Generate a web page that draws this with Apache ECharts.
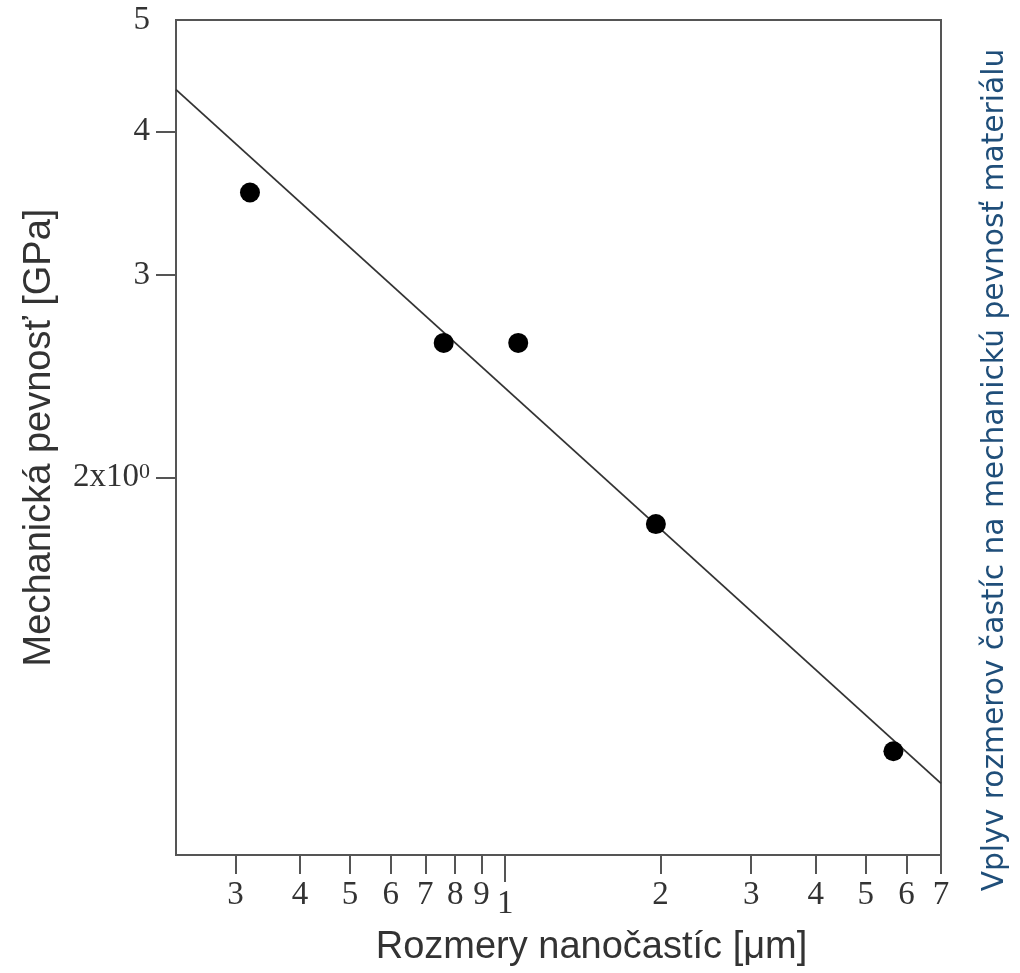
<!DOCTYPE html>
<html><head><meta charset="utf-8">
<script src="https://cdn.jsdelivr.net/npm/echarts@6/dist/echarts.min.js"></script>
<style>html,body{margin:0;padding:0;background:#fff}#c{width:1020px;height:973px}</style>
</head><body><div id="c"></div>
<script>
// Data (log-log plot)
const sizes = [0.32, 0.76, 1.06, 1.96, 5.66];          // particle size [µm]
const strength = [3.54, 2.62, 2.62, 1.823, 1.157];     // strength [GPa]
const fitX = [0.23, 7];
const fitY = [4.35, 1.085];
const xTicks = [0.3, 0.4, 0.5, 0.6, 0.7, 0.8, 0.9, 1, 2, 3, 4, 5, 6, 7];
const xTickLabels = ['3', '4', '5', '6', '7', '8', '9', '1', '2', '3', '4', '5', '6', '7'];
const yTicks = [2, 3, 4, 5];
const yTickLabels = ['{b|2x10}{s|0}', '3', '4', '5'];
const xRange = [0.23, 7];
const yRange = [0.94, 5];

const xTitle = 'Rozmery nanočastíc [μm]';
const yTitle = 'Mechanická pevnosť [GPa]';
const sideTitle = 'Vplyv rozmerov častíc na mechanickú pevnosť materiálu';

function lookup(v, ticks, labels) {
  for (let i = 0; i < ticks.length; i++) if (Math.abs(ticks[i] - v) < 1e-6 * Math.max(1, v)) return labels[i];
  return '';
}
const axisColor = '#555';
const textColor = '#333';
const serif = '"Liberation Serif", "DejaVu Serif", serif';

const chart = echarts.init(document.getElementById('c'), null, {renderer: 'canvas'});
chart.setOption({
  animation: false,
  backgroundColor: '#fff',
  grid: {left: 176, right: 79, top: 20, bottom: 118, show: true, borderColor: axisColor, borderWidth: 2, outerBoundsMode: 'none'},
  xAxis: [{
    type: 'log', logBase: 10, min: xRange[0], max: xRange[1],
    axisLine: {show: true, lineStyle: {color: axisColor, width: 2}},
    axisTick: {show: true, inside: false, length: 19, lineStyle: {color: axisColor, width: 2},
      customValues: xTicks.filter(v => v !== 1)},
    axisLabel: {show: true, margin: 24, fontFamily: serif, fontSize: 33, color: textColor,
      customValues: xTicks.filter(v => v !== 1),
      formatter: v => lookup(v, xTicks, xTickLabels)},
    splitLine: {show: false}, minorTick: {show: false},
    name: xTitle, nameLocation: 'middle', nameGap: 74,
    nameTextStyle: {fontFamily: '"Liberation Sans", Arial, sans-serif', fontSize: 38, color: textColor, padding: [0, 0, 0, 66]}
  }, {
    type: 'log', logBase: 10, min: xRange[0], max: xRange[1], position: 'bottom',
    axisLine: {show: false},
    axisTick: {show: true, inside: false, length: 27, lineStyle: {color: axisColor, width: 2}, customValues: [1]},
    axisLabel: {show: true, margin: 33, fontFamily: serif, fontSize: 33, color: textColor, customValues: [1],
      formatter: v => lookup(v, xTicks, xTickLabels)},
    splitLine: {show: false}
  }],
  yAxis: {
    type: 'log', logBase: 10, min: yRange[0], max: yRange[1],
    axisLine: {show: true, lineStyle: {color: axisColor, width: 2}},
    axisTick: {show: true, inside: false, length: 20, lineStyle: {color: axisColor, width: 2}, customValues: yTicks.filter(v => v !== 5)},
    axisLabel: {show: true, margin: 26, fontFamily: serif, fontSize: 33, color: textColor,
      customValues: yTicks,
      formatter: v => lookup(v, yTicks, yTickLabels),
      rich: {
        b: {fontFamily: serif, fontSize: 33, color: textColor, lineHeight: 33},
        s: {fontFamily: serif, fontSize: 22, color: textColor, verticalAlign: 'top', lineHeight: 33, padding: [0, 0, 12, 0]}
      }},
    splitLine: {show: false},
    name: yTitle, nameLocation: 'middle', nameGap: 117, nameRotate: 90,
    nameTextStyle: {fontFamily: '"Liberation Sans", Arial, sans-serif', fontSize: 38, color: textColor}
  },
  series: [{
    type: 'line', data: fitX.map((x, i) => [x, fitY[i]]), symbol: 'none',
    lineStyle: {color: '#333', width: 1.8}, z: 2
  }, {
    type: 'scatter', data: sizes.map((x, i) => [x, strength[i]]), symbol: 'circle', symbolSize: 20,
    itemStyle: {color: '#000', opacity: 1}, z: 3
  }],
  graphic: [{
    type: 'text', x: 995, y: 470, rotation: Math.PI / 2,
    style: {text: sideTitle, fill: '#1f4e79', font: '29.7px "DejaVu Sans", sans-serif', align: 'center', verticalAlign: 'middle'}
  }]
});
</script></body></html>
